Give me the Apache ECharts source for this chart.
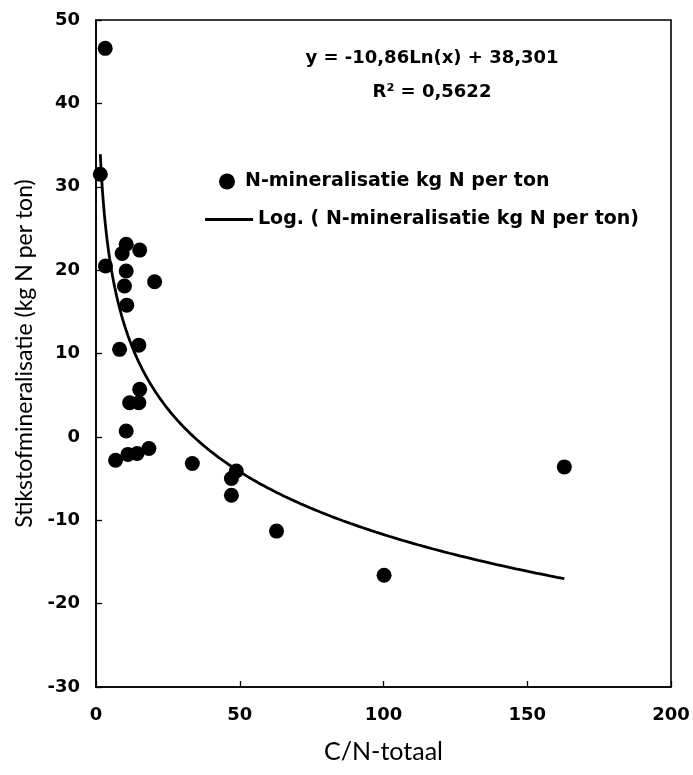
<!DOCTYPE html>
<html>
<head>
<meta charset="utf-8">
<script src="https://cdn.jsdelivr.net/npm/echarts@6/dist/echarts.min.js"></script>
<style>
  html, body { margin: 0; padding: 0; background: #fff; }
  #chart { width: 693px; height: 775px; }
</style>
</head>
<body>
<div id="chart"></div>
<script>
// C/N ratio (x) and nitrogen mineralisation in kg N per ton (y)
const cnRatio = [3.2, 1.5, 3.3, 10.5, 9.1, 15.2, 10.5, 9.9, 20.4, 10.7, 8.2, 14.9, 15.2, 11.7, 14.9, 10.5, 6.8, 11.1, 14.3, 18.4, 33.5, 48.8, 47.1, 47.1, 62.8, 100.2, 162.9];
const nMineralisation = [46.6, 31.5, 20.5, 23.1, 22.0, 22.4, 19.9, 18.1, 18.6, 15.8, 10.5, 11.0, 5.7, 4.1, 4.1, 0.7, -2.8, -2.1, -2.0, -1.4, -3.2, -4.1, -5.0, -7.0, -11.3, -16.6, -3.6];

// Logarithmic trend: y = a*ln(x) + b
const trendA = -10.86;
const trendB = 38.301;
const rSquared = '0,5622';

const xTicks = [0, 50, 100, 150, 200];
const yTicks = [-30, -20, -10, 0, 10, 20, 30, 40, 50];

const seriesName = 'N-mineralisatie kg N per ton';
const trendName = 'Log. ( N-mineralisatie kg N per ton)';

const points = cnRatio.map((x, i) => [x, nMineralisation[i]]);

// Trend curve spans the observed C/N range
const xMin = Math.min(...cnRatio);
const xMax = Math.max(...cnRatio);
const trendPoints = [];
const steps = 300;
for (let i = 0; i <= steps; i++) {
  const x = xMin * Math.pow(xMax / xMin, i / steps);
  trendPoints.push([x, trendA * Math.log(x) + trendB]);
}

const fmt = (v) => String(v).replace('.', ',');
const eqText = 'y = ' + fmt(trendA) + 'Ln(x) + ' + fmt(trendB);

const TITLE_FONT = 'Lato, "Open Sans", sans-serif';
const BOLD_FONT = '"DejaVu Sans", Verdana, sans-serif';

const chart = echarts.init(document.getElementById('chart'), null, { renderer: 'canvas' });
chart.setOption({
  animation: false,
  backgroundColor: '#ffffff',
  grid: {
    left: 96, right: 22, top: 20, bottom: 88,
    show: true, borderColor: '#000', borderWidth: 1.6, backgroundColor: 'transparent'
  },
  xAxis: {
    type: 'value',
    min: xTicks[0], max: xTicks[xTicks.length - 1], interval: 50,
    name: 'C/N-totaal',
    nameLocation: 'middle', nameGap: 52,
    nameTextStyle: { fontFamily: TITLE_FONT, fontSize: 25, color: '#000' },
    axisLine: { show: true, onZero: false, lineStyle: { color: '#000', width: 1.6 } },
    axisTick: { show: true, inside: true, length: 6, lineStyle: { color: '#000', width: 1.3 } },
    axisLabel: { fontFamily: BOLD_FONT, fontSize: 18, fontWeight: 'bold', color: '#000', margin: 19 },
    splitLine: { show: false }
  },
  yAxis: {
    type: 'value',
    min: yTicks[0], max: yTicks[yTicks.length - 1], interval: 10,
    name: 'Stikstofmineralisatie (kg N per ton)',
    nameLocation: 'middle', nameGap: 60, nameRotate: 90,
    nameTextStyle: { fontFamily: TITLE_FONT, fontSize: 23, color: '#000' },
    axisLine: { show: true, onZero: false, lineStyle: { color: '#000', width: 1.6 } },
    axisTick: { show: true, inside: true, length: 6, lineStyle: { color: '#000', width: 1.3 } },
    axisLabel: { fontFamily: BOLD_FONT, fontSize: 18, fontWeight: 'bold', color: '#000', margin: 16 },
    splitLine: { show: false }
  },
  legend: [
    {
      data: [{ name: seriesName, icon: 'circle' }],
      left: 214, top: 167,
      itemWidth: 16, itemHeight: 16,
      textStyle: { fontFamily: BOLD_FONT, fontSize: 19, fontWeight: 'bold', color: '#000', padding: [0, 0, 0, 5] }
    },
    {
      data: [{ name: trendName, icon: 'rect' }],
      left: 200, top: 205,
      itemWidth: 48, itemHeight: 3,
      textStyle: { fontFamily: BOLD_FONT, fontSize: 19, fontWeight: 'bold', color: '#000' }
    }
  ],
  graphic: [
    {
      type: 'text', x: 432, y: 58,
      style: { text: eqText, font: 'bold 18px ' + BOLD_FONT, fill: '#000', align: 'center', verticalAlign: 'middle' }
    },
    {
      type: 'text', x: 432, y: 92,
      style: { text: 'R\u00B2 = ' + rSquared, font: 'bold 18px ' + BOLD_FONT, fill: '#000', align: 'center', verticalAlign: 'middle' }
    }
  ],
  series: [
    {
      name: trendName,
      type: 'line',
      data: trendPoints,
      showSymbol: false,
      smooth: false,
      lineStyle: { color: '#000', width: 2.8 },
      itemStyle: { color: '#000' },
      z: 2
    },
    {
      name: seriesName,
      type: 'scatter',
      data: points,
      symbol: 'circle',
      symbolSize: 15,
      itemStyle: { color: '#000', opacity: 1 },
      z: 3
    }
  ]
});
</script>
</body>
</html>
